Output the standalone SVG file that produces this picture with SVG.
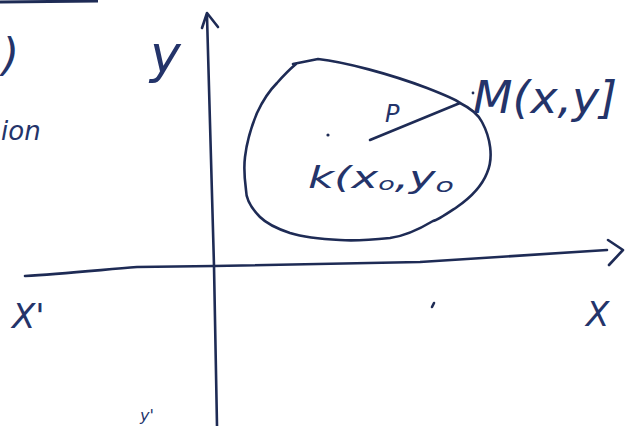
<svg xmlns="http://www.w3.org/2000/svg" width="625" height="426" viewBox="0 0 625 426">
<style>
.ink{fill:none;stroke:#1e2b55;stroke-width:2.6;stroke-linecap:round;stroke-linejoin:round}
.lbl{fill:#24346a;font-family:"DejaVu Sans","Liberation Sans",sans-serif;font-style:italic}
</style>
<rect width="625" height="426" fill="#ffffff"/>
<g id="connectors">
<g id="y-axis">
<path class="ink" d="M217,426 L214,266 L207,16"/>
<path class="ink" d="M202,28 L207,13 L218,27"/>
</g>
<g id="x-axis">
<path class="ink" d="M25,276 C60,274 100,270 137,267 L214,266 L420,262 L607,250"/>
<path class="ink" d="M608,240 L623,250 L609,265"/>
</g>
<g id="segment-P">
<path class="ink" d="M370,140 L460,103"/>
</g>
</g>
<g id="region">
<path class="ink" d="M293,64 L318,59 C345,62 390,74 427,88 C445,95 455,99 460,103 C470,108 478,114 482,122 C490,137 494,157 487,173 C481,188 470,198 457,207 C445,215 438,220 433,221 C418,230 405,236 390,238 C370,240 355,241 340,240 C320,239 303,237 290,233 C275,228 266,223 260,217 C250,207 246,198 246,190 C244,175 244,165 245,157 C247,140 252,125 257,113 C263,100 270,90 277,83 C284,75 290,69 296,64"/>
</g>
<g id="point-K">
<circle cx="328" cy="135" r="1.6" fill="#1e2b55"/>
<text class="lbl" x="308" y="188" font-size="30" textLength="146" lengthAdjust="spacingAndGlyphs">k(x<tspan font-size="18" dy="2">o</tspan><tspan dy="-2">,y</tspan><tspan font-size="20" dy="4">o</tspan></text>
</g>
<g id="point-M">
<circle cx="473" cy="93" r="1.4" fill="#1e2b55"/>
<text class="lbl" x="473" y="113" font-size="44" textLength="144" lengthAdjust="spacingAndGlyphs">M(x,y]</text>
</g>
<g id="label-P">
<text class="lbl" x="385" y="122" font-size="24">P</text>
</g>
<g id="label-y">
<text class="lbl" x="150" y="72" font-size="52">y</text>
</g>
<g id="label-x">
<text class="lbl" x="586" y="326" font-size="34">X</text>
</g>
<g id="label-x-prime">
<text class="lbl" x="12" y="328" font-size="34">X'</text>
</g>
<g id="label-y-prime">
<text class="lbl" x="140" y="421" font-size="16">y'</text>
</g>
<g id="margin">
<path d="M0,2 L98,1" stroke="#1e2b55" stroke-width="3" fill="none"/>
<text class="lbl" x="2" y="70" font-size="44">)</text>
<text class="lbl" x="1" y="140" font-size="26">ion</text>
<path class="ink" d="M432,307 L434,303" stroke-width="1.5"/>
</g>
</svg>
